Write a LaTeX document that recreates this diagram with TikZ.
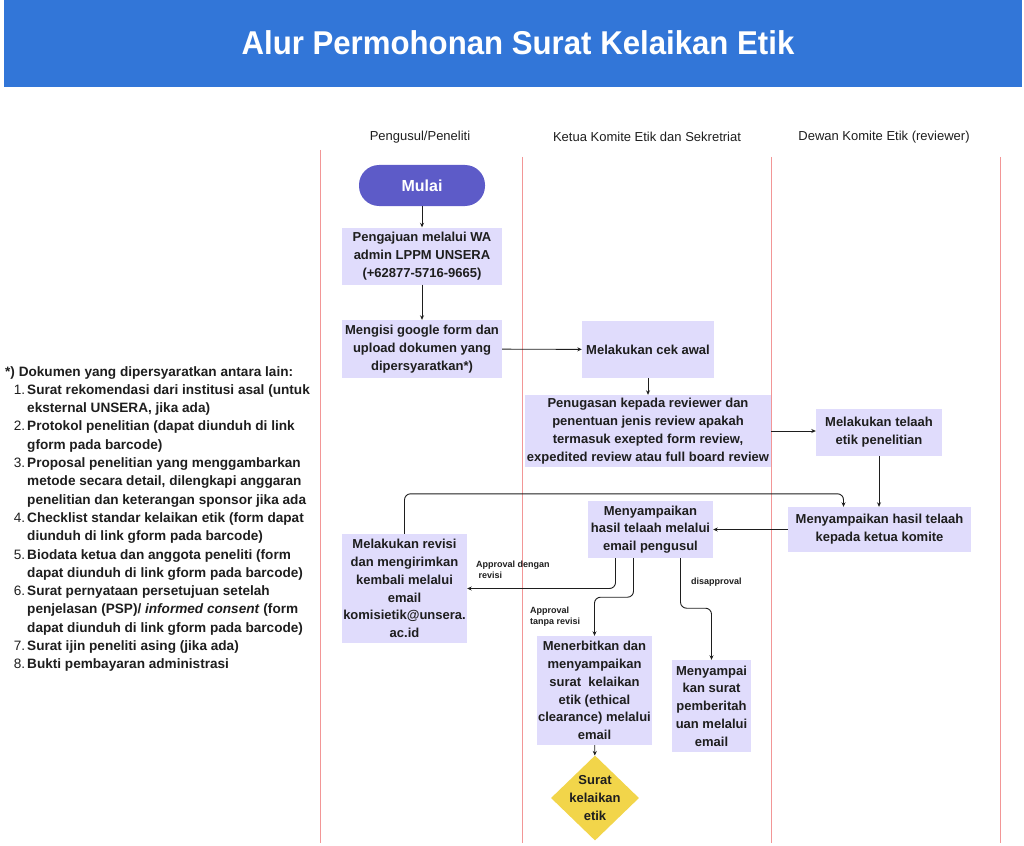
\documentclass[tikz,border=0pt]{standalone}
\usepackage{fontspec}
\setmainfont{Liberation Sans}
\usepackage{tikz}
\usetikzlibrary{arrows.meta,positioning,shapes.geometric}
\usepackage{xcolor}
\definecolor{kebanner}{RGB}{50,118,216}
\definecolor{kemulai}{RGB}{93,91,200}
\definecolor{kebox}{RGB}{224,220,252}
\definecolor{kegold}{RGB}{242,213,74}
\definecolor{keink}{RGB}{30,30,30}
\definecolor{kelane}{RGB}{242,150,150}
\tikzset{
  stepbox/.style={rectangle,fill=kebox,text=keink,align=center,inner sep=0pt,
    font=\fontsize{13}{17.8}\selectfont\bfseries},
  startnode/.style={rectangle,rounded corners=20pt,fill=kemulai,text=white,
    minimum width=126pt,minimum height=41pt,font=\fontsize{16}{19}\selectfont\bfseries},
  endnode/.style={diamond,fill=kegold,minimum width=88pt,minimum height=85pt,inner sep=0pt},
  lanehead/.style={font=\fontsize{13}{15}\selectfont,text=keink},
  lanerule/.style={draw=kelane,line width=0.7pt},
  flowlabel/.style={font=\fontsize{9}{11}\selectfont\bfseries,text=keink,align=left,inner sep=0pt},
  flowarrow/.style={-{Stealth[length=4.5pt,width=4pt]},draw=keink,line width=0.9pt,rounded corners=6pt}
}
\newcommand{\docitem}[2]{\makebox[20pt][r]{\mdseries #1}\hspace{2pt}#2}
\newcommand{\docline}[1]{\hspace*{22pt}#1}

\begin{document}
\begin{tikzpicture}[x=1pt,y=-1pt]
  \useasboundingbox (0,0) rectangle (1024,845);
  % banner
  \fill[kebanner] (4,0) rectangle (1022,87);
  \node[text=white,font=\fontsize{33}{36}\selectfont\bfseries] (title) at (518,43)
    {\scalebox{0.945}[1]{Alur Permohonan Surat Kelaikan Etik}};
  % lanes
  \node[lanehead] (headA) at (420,137) {Pengusul/Peneliti};
  \node[lanehead] (headB) at (647,137) {Ketua Komite Etik dan Sekretriat};
  \node[lanehead] (headC) at (884,137) {Dewan Komite Etik (reviewer)};
  \draw[lanerule] (320,150) -- (320,843);
  \draw[lanerule] (522,157) -- (522,843);
  \draw[lanerule] (771,157) -- (771,843);
  \draw[lanerule] (1000,157) -- (1000,843);
  % steps
  \node[startnode] (mulai) at (422,185.5) {Mulai};
  \node[stepbox,minimum width=160pt,minimum height=57pt] (pengajuan) at (422,256)
    {Pengajuan melalui WA\\admin LPPM UNSERA\\(+62877-5716-9665)};
  \node[stepbox,minimum width=160pt,minimum height=58pt] (mengisi) at (422,349)
    {Mengisi google form dan\\upload dokumen yang\\dipersyaratkan*)};
  \node[stepbox,minimum width=132pt,minimum height=57pt] (cekawal) at (648,349.5)
    {Melakukan cek awal};
  \node[stepbox,minimum width=246pt,minimum height=72pt] (penugasan) at (648,431)
    {Penugasan kepada reviewer dan\\penentuan jenis review apakah\\termasuk exepted form review,\\expedited review atau full board review};
  \node[stepbox,minimum width=126pt,minimum height=47pt] (telaah) at (879,432.5)
    {Melakukan telaah\\etik penelitian};
  \node[stepbox,minimum width=183pt,minimum height=45pt] (keketua) at (879.5,529.5)
    {Menyampaikan hasil telaah\\kepada ketua komite};
  \node[stepbox,minimum width=125pt,minimum height=57pt] (kepengusul) at (650.5,529.5)
    {Menyampaikan\\hasil telaah melalui\\email pengusul};
  \node[stepbox,minimum width=125pt,minimum height=109pt] (revisi) at (404.5,588.5)
    {Melakukan revisi\\dan mengirimkan\\kembali melalui\\email\\komisietik@unsera.\\ac.id};
  \node[stepbox,minimum width=115pt,minimum height=109pt] (terbit) at (594.5,690.5)
    {Menerbitkan dan\\menyampaikan\\surat\ \ kelaikan\\etik (ethical\\clearance) melalui\\email};
  \node[stepbox,minimum width=79pt,minimum height=92pt] (beritahu) at (711.5,706)
    {Menyampai\\kan surat\\pemberitah\\uan melalui\\email};
  \node[endnode,label={[stepbox,fill=none]center:Surat\\kelaikan\\etik}] (surat) at (595,798) {};
  % connectors
  \draw[flowarrow] (mulai) -- (pengajuan);
  \draw[flowarrow] (pengajuan) -- (mengisi);
  \draw[flowarrow] (mengisi) -- (cekawal);
  \draw[flowarrow] (cekawal) -- (penugasan);
  \draw[flowarrow] (penugasan.east) -- (telaah.west |- penugasan.east);
  \draw[flowarrow] (telaah) -- (keketua.north -| telaah);
  \draw[flowarrow] (keketua) -- (kepengusul);
  \draw[flowarrow] ([xshift=-35pt]kepengusul.south) |- (revisi.east);
  \draw[flowarrow] ([xshift=-17pt]kepengusul.south) -- ++(0,39) -| (terbit.north);
  \draw[flowarrow] ([xshift=30pt]kepengusul.south) -- ++(0,50) -| (beritahu.north);
  \draw[flowarrow] (terbit) -- (surat);
  \draw[flowarrow] (revisi.north) -- ++(0,-40) -| ([xshift=-36pt]keketua.north);
  % connector labels
  \node[flowlabel,anchor=north west] (lblrevisi) at (476,561) {Approval dengan\\\ revisi};
  \node[flowlabel,anchor=north west] (lbltanpa) at (530,607) {Approval\\tanpa revisi};
  \node[flowlabel,anchor=north west] (lbltolak) at (691,578) {disapproval};
  % required documents
  \node[anchor=north west,align=left,inner sep=0pt,text=keink,
    font=\fontsize{13.6}{18.3}\selectfont\bfseries] (dokumen) at (5,366)
    {*) Dokumen yang dipersyaratkan antara lain:\\
     \docitem{1.}{Surat rekomendasi dari institusi asal (untuk}\\
     \docline{eksternal UNSERA, jika ada)}\\
     \docitem{2.}{Protokol penelitian (dapat diunduh di link}\\
     \docline{gform pada barcode)}\\
     \docitem{3.}{Proposal penelitian yang menggambarkan}\\
     \docline{metode secara detail, dilengkapi anggaran}\\
     \docline{penelitian dan keterangan sponsor jika ada}\\
     \docitem{4.}{Checklist standar kelaikan etik (form dapat}\\
     \docline{diunduh di link gform pada barcode)}\\
     \docitem{5.}{Biodata ketua dan anggota peneliti (form}\\
     \docline{dapat diunduh di link gform pada barcode)}\\
     \docitem{6.}{Surat pernyataan persetujuan setelah}\\
     \docline{penjelasan (PSP)/ \textit{informed consent} (form}\\
     \docline{dapat diunduh di link gform pada barcode)}\\
     \docitem{7.}{Surat ijin peneliti asing (jika ada)}\\
     \docitem{8.}{Bukti pembayaran administrasi}};
\end{tikzpicture}
\end{document}
